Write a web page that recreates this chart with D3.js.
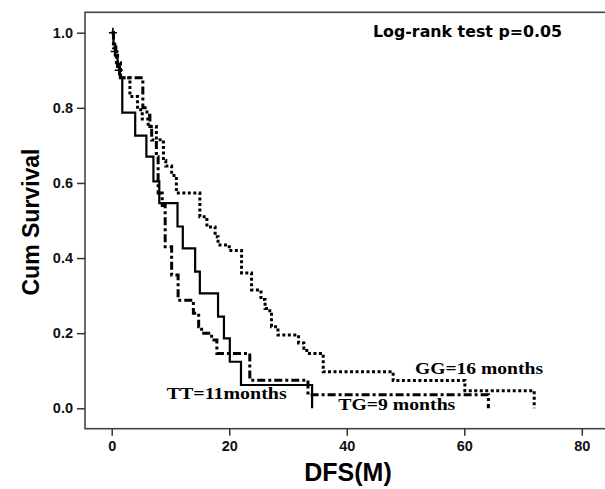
<!DOCTYPE html>
<html>
<head>
<meta charset="utf-8">
<script src="https://cdn.jsdelivr.net/npm/d3@7"></script>
<style>
    body { margin: 0; background: #fff; }
    svg { display: block; }
    .tick text { font-family: "Liberation Sans", Arial, sans-serif; font-weight: bold; font-size: 14.5px; fill: #111; }
    .tick line { stroke: #333; stroke-width: 1.5px; }
</style>
</head>
<body>
<script>
// Kaplan-Meier steps (time in months, survival after each drop)
const ttTime = [0, 0.3, 0.6, 1.0, 1.4, 1.8, 4.0, 5.9, 7.1, 8.1, 11.2, 12.1, 14.2, 15.0, 18.1, 19.1, 20.1, 22.0, 34.1];
const ttSurv = [1.0, 0.97, 0.94, 0.91, 0.88, 0.787, 0.726, 0.67, 0.604, 0.546, 0.484, 0.426, 0.364, 0.306, 0.244, 0.186, 0.124, 0.062, 0];

const tgTime = [0, 0.3, 0.7, 1.0, 1.5, 5.3, 6.0, 6.5, 6.8, 7.6, 7.9, 8.6, 9.1, 10.2, 11.3, 13.9, 14.8, 15.3, 17.0, 17.9, 23.5, 33.4, 64.1];
const tgSurv = [1.0, 0.97, 0.94, 0.91, 0.88, 0.80, 0.78, 0.75, 0.714, 0.67, 0.573, 0.54, 0.43, 0.355, 0.288, 0.253, 0.217, 0.20, 0.182, 0.146, 0.075, 0.036, 0];

const ggTime = [0, 0.3, 0.8, 1.5, 3.1, 4.4, 5.2, 6.2, 7.6, 8.8, 9.2, 10.2, 11.0, 15.0, 16.2, 17.6, 18.1, 20.0, 22.1, 23.8, 25.4, 26.1, 26.9, 27.2, 28.3, 31.8, 32.7, 33.2, 36.0, 47.9, 60.1, 71.9];
const ggSurv = [1.0, 0.96, 0.92, 0.88, 0.83, 0.795, 0.77, 0.75, 0.715, 0.66, 0.645, 0.62, 0.573, 0.51, 0.483, 0.457, 0.435, 0.42, 0.36, 0.315, 0.29, 0.266, 0.256, 0.217, 0.195, 0.174, 0.16, 0.146, 0.097, 0.074, 0.047, 0];

// censored cases (+)
const censorTime = [0.2, 0.5, 1.2];
const censorSurv = [1.0, 0.95, 0.9];

const xTicks = [0, 20, 40, 60, 80];
const yTicks = [0, 0.2, 0.4, 0.6, 0.8, 1.0];

const width = 605, height = 489;
const frame = {left: 85, top: 12.3, bottom: 428.7};

const svg = d3.select("body").append("svg")
    .attr("width", width)
    .attr("height", height);

const x = d3.scaleLinear().domain([0, 80]).range([111.7, 581.8]);
const y = d3.scaleLinear().domain([0, 1]).range([408.3, 32.7]);

// frame
svg.append("rect")
    .attr("x", frame.left).attr("y", frame.top)
    .attr("width", width + 10 - frame.left).attr("height", frame.bottom - frame.top)
    .attr("fill", "none").attr("stroke", "#444").attr("stroke-width", 1.6);

svg.append("g")
    .attr("transform", `translate(${frame.left},0)`)
    .call(d3.axisLeft(y).tickValues(yTicks).tickFormat(d3.format(".1f")).tickSize(8).tickPadding(4))
    .call(g => g.select(".domain").remove());

svg.append("g")
    .attr("transform", `translate(0,${frame.bottom})`)
    .call(d3.axisBottom(x).tickValues(xTicks).tickSize(7).tickPadding(5))
    .call(g => g.select(".domain").remove());

const step = d3.line()
    .x(d => x(d[0]))
    .y(d => y(d[1]))
    .curve(d3.curveStepAfter);

const curves = [
    {time: ttTime, surv: ttSurv, dash: null, w: 2.2},
    {time: tgTime, surv: tgSurv, dash: "8,3,3,3", w: 3},
    {time: ggTime, surv: ggSurv, dash: "3,2.5", w: 3}
];

curves.forEach(c => {
    svg.append("path")
        .datum(d3.zip(c.time, c.surv))
        .attr("d", step)
        .attr("fill", "none")
        .attr("stroke", "#000")
        .attr("stroke-width", c.w)
        .attr("stroke-dasharray", c.dash);
});

svg.append("g").selectAll("path")
    .data(d3.zip(censorTime, censorSurv))
    .join("path")
    .attr("d", d => `M${x(d[0]) - 4},${y(d[1])}h8M${x(d[0])},${y(d[1]) - 5}v10`)
    .attr("stroke", "#000").attr("stroke-width", 1.6);

// labels
svg.append("text")
    .attr("transform", "translate(39,222) rotate(-90)")
    .attr("text-anchor", "middle")
    .style("font-family", "'Liberation Sans', Arial, sans-serif")
    .style("font-weight", "bold").style("font-size", "23px")
    .text("Cum Survival");

svg.append("text")
    .attr("x", 348).attr("y", 481)
    .attr("text-anchor", "middle")
    .style("font-family", "'Liberation Sans', Arial, sans-serif")
    .style("font-weight", "bold").style("font-size", "25px")
    .text("DFS(M)");

svg.append("text")
    .attr("x", 373).attr("y", 37.3)
    .attr("textLength", 189).attr("lengthAdjust", "spacingAndGlyphs")
    .style("font-family", "'DejaVu Sans', sans-serif")
    .style("font-weight", "bold").style("font-size", "15px")
    .text("Log-rank test p=0.05");

const notes = [
    {text: "TT=11months", x: 166.7, y: 399, len: 120},
    {text: "GG=16 months", x: 415, y: 374.3, len: 128},
    {text: "TG=9 months", x: 338.3, y: 410, len: 117}
];
svg.append("g").selectAll("text")
    .data(notes)
    .join("text")
    .attr("x", d => d.x).attr("y", d => d.y)
    .attr("textLength", d => d.len).attr("lengthAdjust", "spacingAndGlyphs")
    .style("font-family", "'Liberation Serif', 'Times New Roman', serif")
    .style("font-weight", "bold").style("font-size", "16.5px")
    .text(d => d.text);
</script>
</body>
</html>
